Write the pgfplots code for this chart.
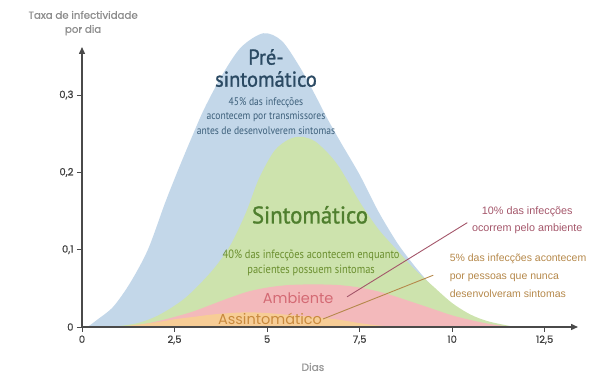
\documentclass[border=0pt]{standalone}
\usepackage{pgfplots}
\pgfplotsset{compat=1.18}
\usepackage{fontspec}
\usetikzlibrary{arrows.meta}
\newfontfamily\pop[FakeBold=0.8]{Poppins}
\newfontfamily\popl{Poppins}
\newfontfamily\cond[FakeStretch=0.87]{PT Sans}
\newfontfamily\condh[FakeStretch=0.95,FakeBold=1.2]{PT Sans}
\newfontfamily\arial{Liberation Sans}
\definecolor{cBlue}{HTML}{C3D7E9}
\definecolor{cGreen}{HTML}{CDE3AD}
\definecolor{cRed}{HTML}{F3B9BB}
\definecolor{cOrange}{HTML}{F7CD96}
\definecolor{tPre}{HTML}{2B4A63}
\definecolor{tPreS}{HTML}{3C5F7A}
\definecolor{tSin}{HTML}{4F7F2E}
\definecolor{tSinS}{HTML}{6B8F2F}
\definecolor{tAmb}{HTML}{D46A74}
\definecolor{tAss}{HTML}{C98A3E}
\definecolor{tTen}{HTML}{A4566A}
\definecolor{tFive}{HTML}{B5884A}
\definecolor{axgray}{HTML}{4A4A4A}
\begin{document}
\begin{tikzpicture}
\useasboundingbox (-82pt,-60pt) rectangle (525pt,327pt);
\begin{axis}[
  at={(0,0)}, anchor=south west,
  scale only axis, width=496pt, height=280pt,
  xmin=0, xmax=13.4, ymin=0, ymax=0.3622,
  axis lines=left, axis on top, clip=false,
  axis line style={draw=axgray, line width=1.4pt, -{Triangle[length=7pt,width=6pt]}},
  tick style={draw=axgray, line width=0.8pt}, tick align=outside, major tick length=5pt,
  xtick={0,2.5,5,7.5,10,12.5}, xticklabels={0,{2,5},5,{7,5},10,{12,5}},
  ytick={0,0.1,0.2,0.3}, yticklabels={0,{0,1},{0,2},{0,3}},
  ticklabel style={font=\pop\fontsize{10}{12}\selectfont, text=black!75},
  /pgf/number format/assume math mode=true,
]
\addplot[fill=cBlue, draw=none, smooth, tension=0.5] coordinates {
(0.15,0) (0.4,0.009) (0.84,0.026) (1.3,0.057) (1.78,0.100) (2.24,0.160) (2.57,0.200) (2.9,0.238) (3.3,0.282) (3.8,0.327) (4.3,0.362) (4.9,0.380) (5.4,0.370) (5.9,0.335) (6.3,0.300) (6.6,0.272) (7.0,0.238) (7.5,0.197) (8.0,0.150) (8.5,0.110) (8.9,0.084) (9.3,0.061) (9.7,0.040) (10.1,0.020) (10.5,0.006) (10.9,0)
} \closedcycle;
\addplot[fill=cGreen, draw=none, smooth, tension=0.5] coordinates {
(0.8,0) (1.5,0.005) (2.1,0.016) (2.8,0.038) (3.5,0.072) (4.0,0.105) (4.43,0.148) (4.78,0.192) (5.2,0.228) (5.6,0.243) (5.94,0.246) (6.3,0.240) (6.7,0.222) (7.0,0.203) (7.5,0.162) (8.0,0.127) (8.5,0.100) (9.0,0.074) (9.5,0.052) (10.0,0.031) (10.5,0.016) (11.0,0.007) (11.7,0)
} \closedcycle;
\addplot[fill=cRed, draw=none, smooth, tension=0.5] coordinates {
(1.2,0) (1.6,0.003) (2.0,0.007) (2.5,0.013) (3.0,0.020) (3.5,0.029) (4.0,0.038) (4.5,0.046) (5.0,0.051) (5.5,0.054) (6.0,0.055) (6.5,0.055) (7.0,0.054) (7.5,0.051) (8.0,0.046) (8.5,0.039) (9.0,0.031) (9.5,0.023) (10.0,0.015) (10.5,0.009) (11.0,0.004) (11.6,0)
} \closedcycle;
\addplot[fill=cOrange, draw=none, smooth, tension=0.5] coordinates {
(1.0,0) (1.5,0.003) (2.0,0.006) (2.5,0.010) (3.0,0.013) (3.5,0.016) (4.0,0.018) (4.5,0.019) (5.0,0.018) (5.5,0.016) (6.0,0.014) (6.5,0.012) (7.0,0.009) (7.5,0.005) (8.0,0.002) (8.6,0)
} \closedcycle;
\addplot[draw=tTen, line width=0.9pt] coordinates {(7.16,0.039) (10.41,0.135)};
\addplot[draw=tFive, line width=0.9pt] coordinates {(6.51,0.0103) (9.49,0.067)};
\node[align=center, text=black!45, font=\pop\fontsize{10.2}{14}\selectfont] at (axis cs:0.03,0.393) {Taxa de infectividade\\por dia};
\node[text=black!40, font=\pop\fontsize{10.5}{13}\selectfont] at (axis cs:6.24,-0.0517) {Dias};
\node[align=center, text=tPre, font=\condh\fontsize{21.5}{22}\selectfont] at (axis cs:4.97,0.335) {Pré-\\sintomático};
\node[align=center, text=tPreS, font=\cond\fontsize{11}{14.5}\selectfont] at (axis cs:4.97,0.273) {45\% das infecções\\acontecem por transmissores\\antes de desenvolverem sintomas};
\node[text=tSin, font=\condh\fontsize{24}{26}\selectfont] at (axis cs:6.16,0.145) {Sintomático};
\node[align=center, text=tSinS, font=\cond\fontsize{12}{15}\selectfont] at (axis cs:6.19,0.083) {40\% das infecções acontecem enquanto\\pacientes possuem sintomas};
\node[text=tAmb, font=\popl\fontsize{14.5}{16}\selectfont] at (axis cs:5.84,0.0375) {Ambiente};
\node[text=tAss, font=\popl\fontsize{14.5}{16}\selectfont] at (axis cs:5.08,0.0103) {Assintomático};
\node[align=center, text=tTen, font=\arial\fontsize{10.8}{17}\selectfont] at (axis cs:12.03,0.138) {10\% das infecções\\ocorrem pelo ambiente};
\node[align=left, anchor=west, text=tFive, font=\arial\fontsize{10.5}{18}\selectfont] at (axis cs:9.84,0.066) {5\% das infecções acontecem\\por pessoas que nunca\\desenvolveram sintomas};
\end{axis}
\end{tikzpicture}
\end{document}
